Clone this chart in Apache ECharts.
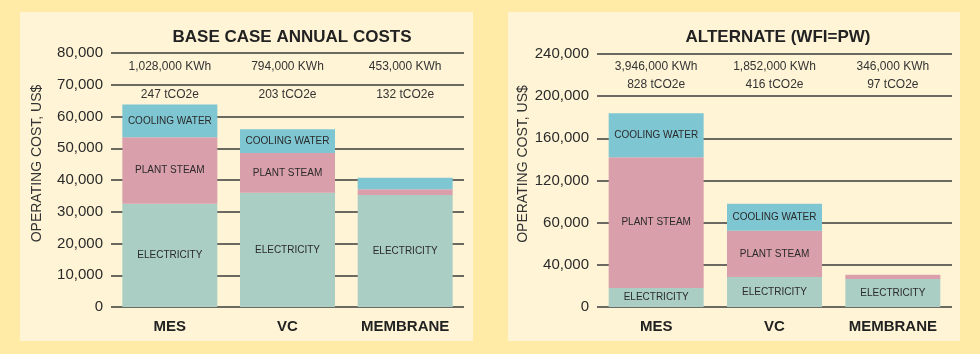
<!DOCTYPE html>
<html><head><meta charset="utf-8">
<script src="https://cdn.jsdelivr.net/npm/echarts@6/dist/echarts.min.js"></script>
<style>html,body{margin:0;padding:0;background:#FFEAA6;}#c{width:980px;height:354px;}</style>
</head><body><div id="c"></div>
<script>
const categories = ['MES', 'VC', 'MEMBRANE'];
const seriesNames = ['ELECTRICITY', 'PLANT STEAM', 'COOLING WATER'];

const leftTitle = 'BASE CASE ANNUAL COSTS';
const leftElectricity = [32500, 36000, 35300];
const leftSteam = [21000, 12500, 1800];
const leftCooling = [10300, 7500, 3600];
const leftKwh = ['1,028,000 KWh', '794,000 KWh', '453,000 KWh'];
const leftCo2 = ['247 tCO2e', '203 tCO2e', '132 tCO2e'];
const leftTicks = ['0', '10,000', '20,000', '30,000', '40,000', '50,000', '60,000', '70,000', '80,000'];

const rightTitle = 'ALTERNATE (WFI=PW)';
const rightElectricity = [18000, 28500, 26600];
const rightSteam = [124000, 43900, 4100];
const rightCooling = [41700, 25600, 0];
const rightKwh = ['3,946,000 KWh', '1,852,000 KWh', '346,000 KWh'];
const rightCo2 = ['828 tCO2e', '416 tCO2e', '97 tCO2e'];
const rightTicks = ['0', '40,000', '60,000', '120,000', '160,000', '200,000', '240,000'];

const yName = 'OPERATING COST, US$';
const colors = ['#ABCEC4', '#D99FAB', '#7FC6D3'];
const FONT = '"Liberation Sans", Arial, sans-serif';

const chart = echarts.init(document.getElementById('c'), null, {renderer: 'canvas'});

function yAxis(gi, max, interval, ticks) {
  return {
    gridIndex: gi, type: 'value', min: 0, max: max, interval: interval,
    name: yName, nameLocation: 'middle', nameRotate: 90, nameGap: 67,
    nameTextStyle: {fontFamily: FONT, fontSize: 14, color: '#333', padding: [0, 0, 0, 33]},
    axisLine: {show: false}, axisTick: {show: false},
    axisLabel: {fontFamily: FONT, fontSize: 15, color: '#2a2a2a', margin: 8,
      formatter: (v, i) => ticks[Math.round(v / interval)]},
    splitLine: {lineStyle: {color: '#3a3a3a', width: 1.5}}
  };
}
function xAxis(gi) {
  return {
    gridIndex: gi, type: 'category', data: categories,
    axisLine: {show: false}, axisTick: {show: false},
    axisLabel: {fontFamily: FONT, fontSize: 15, fontWeight: 'bold', color: '#222', margin: 12}
  };
}
function topAxis(gi, kwh, co2, lh, margin) {
  return {
    gridIndex: gi, type: 'category', position: 'top', data: categories.map((c, i) => kwh[i] + '\n' + co2[i]),
    axisLine: {show: false}, axisTick: {show: false}, splitLine: {show: false},
    axisLabel: {inside: true, margin: margin, fontFamily: FONT, fontSize: 12, color: '#333', lineHeight: lh, verticalAlign: 'top'}
  };
}
function bars(xi, yi, data) {
  return data.map((d, k) => ({
    type: 'bar', name: seriesNames[k], stack: 's' + xi, xAxisIndex: xi, yAxisIndex: yi,
    data: d, barWidth: 95,
    itemStyle: {color: colors[k]},
    label: {show: true, position: 'inside', fontFamily: FONT, fontSize: 10, color: '#2a2a2a',
      formatter: p => (p.value >= 5000 ? seriesNames[k] : '')}
  }));
}

chart.setOption({
  animation: false,
  backgroundColor: '#FFEAA6',
  graphic: [
    {type: 'rect', shape: {x: 20, y: 12, width: 453, height: 329}, style: {fill: '#FFF5D6'}, z: -10},
    {type: 'rect', shape: {x: 508, y: 12, width: 452, height: 329}, style: {fill: '#FFF5D6'}, z: -10}
  ],
  title: [
    {text: leftTitle, left: 287, top: 24, textAlign: 'center', textStyle: {fontFamily: FONT, fontSize: 17, fontWeight: 'bold', color: '#222'}},
    {text: rightTitle, left: 773, top: 24, textAlign: 'center', textStyle: {fontFamily: FONT, fontSize: 17, fontWeight: 'bold', color: '#222'}}
  ],
  grid: [
    {left: 111, right: 516, top: 53, bottom: 47},
    {left: 597, right: 28, top: 54, bottom: 47}
  ],
  xAxis: [xAxis(0), xAxis(1), topAxis(0, leftKwh, leftCo2, 28, 0), topAxis(1, rightKwh, rightCo2, 18, 4)],
  yAxis: [yAxis(0, 80000, 10000, leftTicks), yAxis(1, 240000, 40000, rightTicks)],
  series: [
    ...bars(0, 0, [leftElectricity, leftSteam, leftCooling]),
    ...bars(1, 1, [rightElectricity, rightSteam, rightCooling])
  ]
});
</script></body></html>
